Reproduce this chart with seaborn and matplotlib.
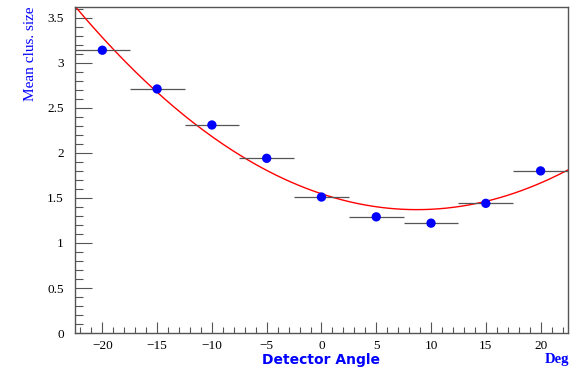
import numpy as np
import pandas as pd
import matplotlib
matplotlib.use("Agg")
import matplotlib.pyplot as plt
from matplotlib.ticker import MultipleLocator
import seaborn as sns

# measured points (angle in deg, mean cluster size)
angles = [-20, -15, -10, -5, 0, 5, 10, 15, 20]
clus_size = [3.14, 2.71, 2.31, 1.94, 1.51, 1.29, 1.22, 1.44, 1.80]
angle_err = [2.5, 2.5, 2.5, 2.5, 2.5, 2.5, 2.5, 2.5, 2.5]

# pol2 fit parameters p0 + p1*x + p2*x^2
fit_p0 = 1.546
fit_p1 = -0.0404
fit_p2 = 0.00232

sns.set_style("white")
plt.rcParams['font.family'] = ['Liberation Serif', 'DejaVu Serif']

fig = plt.figure(figsize=(5.72, 3.68), dpi=100)
ax = fig.add_axes([0.131, 0.095, 0.862, 0.886])

df = pd.DataFrame({"angle": angles, "size": clus_size})

xs = np.linspace(-22.5, 22.5, 200)
fit_df = pd.DataFrame({"angle": xs, "size": fit_p0 + fit_p1 * xs + fit_p2 * xs ** 2})
sns.lineplot(data=fit_df, x="angle", y="size", color="red", linewidth=1.0, ax=ax, zorder=2)

ax.errorbar(angles, clus_size, xerr=angle_err, fmt="none", ecolor="#555555",
            elinewidth=0.9, capsize=0, zorder=3)
sns.scatterplot(data=df, x="angle", y="size", color="blue", s=45, edgecolor="none",
                ax=ax, zorder=4)

ax.set_xlim(-22.5, 22.5)
ax.set_ylim(0, 3.62)
ax.xaxis.set_major_locator(MultipleLocator(5))
ax.xaxis.set_minor_locator(MultipleLocator(1))
ax.yaxis.set_minor_locator(MultipleLocator(0.1))
ax.set_yticks(np.arange(0, 3.6, 0.5))
ax.set_yticklabels(["0", "0.5", "1", "1.5", "2", "2.5", "3", "3.5"])
ax.tick_params(axis="both", which="both", direction="in", colors="#555555",
               labelcolor="black", labelsize=9.5, bottom=True, left=True,
               top=False, right=False)
ax.tick_params(axis="y", which="major", length=12, width=0.8, pad=8)
ax.tick_params(axis="y", which="minor", length=6, width=0.8)
ax.tick_params(axis="x", which="major", length=8, width=0.8, pad=5)
ax.tick_params(axis="x", which="minor", length=4, width=0.8)
for sp in ax.spines.values():
    sp.set_color("#555555")
    sp.set_linewidth(1.0)

ax.set_xlabel("")
ax.set_ylabel("")
fig.text(0.053, 0.981, "Mean clus. size", rotation=90, color="blue", fontsize=11,
         ha="center", va="top", family="Liberation Serif")
fig.text(0.562, 0.023, "Detector Angle", color="blue", fontsize=10,
         weight="semibold", ha="center", va="center", family="DejaVu Sans")
fig.text(0.996, 0.023, "Deg", color="blue", fontsize=10.5, weight="bold",
         ha="right", va="center", family="Liberation Serif")

fig.savefig("out.png", dpi=100)
